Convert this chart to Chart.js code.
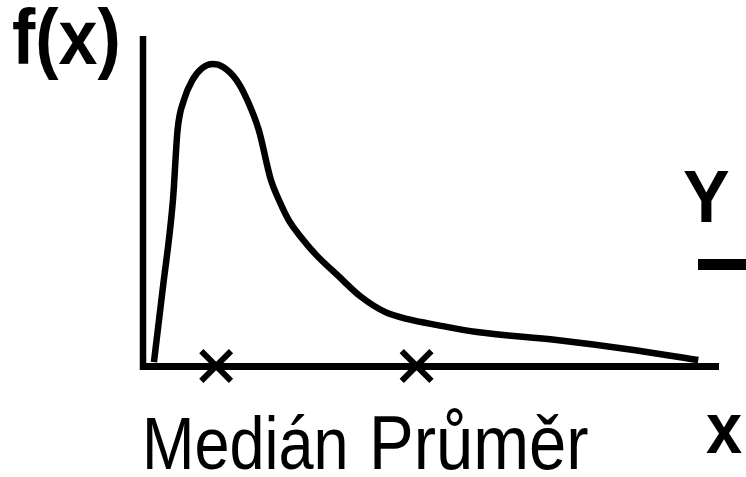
<!DOCTYPE html>
<html lang="cs">
<head>
<meta charset="utf-8">
<script src="https://cdn.jsdelivr.net/npm/chart.js@4/dist/chart.umd.min.js"></script>
<style>
  html,body{margin:0;padding:0;background:#fff;}
  canvas{display:block;}
</style>
</head>
<body>
<canvas id="graf" width="746" height="477"></canvas>
<script>
/* ---- data : hustota f(x), šikmé rozdělení ---- */
const krivkaX = [1.9, 3.4, 5.2, 6.0, 7.1, 8.6, 10.3, 12.1, 13.9, 16.2, 18.1, 20.1, 22.2, 23.6, 25.3, 27.4, 30.1, 33.9, 37.9, 42.0, 46.0, 51.1, 58.0, 71.8, 85.5, 96.4];
const krivkaY = [1.2, 23.0, 50.3, 71.5, 80.6, 86.7, 90.3, 91.5, 90.6, 86.7, 80.6, 71.5, 56.4, 50.3, 44.2, 39.1, 33.6, 27.3, 20.9, 16.4, 14.2, 12.4, 10.3, 7.9, 4.8, 1.8];
const znackyX = [12.7, 47.5];   // medián, průměr
const znackyY = [0, 0];
const popisky = ['Medián', 'Průměr'];

const PISMO = '"Liberation Sans", Arial, sans-serif';

/* text mírně natažený svisle, jako v předloze */
function napis(ctx, t, x, y, font, sy){
  ctx.save();
  ctx.font = font;
  ctx.translate(x, y);
  ctx.scale(1, sy);
  ctx.fillText(t, 0, 0);
  ctx.restore();
}

/* osy + texty kreslené přímo do plátna */
const osy = {
  id: 'osy',
  beforeDatasetsDraw(ch){
    const {ctx, chartArea: a, scales: {x, y}} = ch;
    const x0 = x.getPixelForValue(0), y0 = y.getPixelForValue(0);
    ctx.save();
    ctx.strokeStyle = '#000';
    ctx.lineCap = 'butt';
    ctx.lineWidth = 6.5;
    ctx.beginPath(); ctx.moveTo(x0, a.top); ctx.lineTo(x0, y0 + 4); ctx.stroke();
    ctx.lineWidth = 7;
    ctx.beginPath(); ctx.moveTo(x0 - 3, y0 + 0.5); ctx.lineTo(a.right, y0 + 0.5); ctx.stroke();
    ctx.restore();
  },
  afterDraw(ch){
    const ctx = ch.ctx;
    ctx.save();
    ctx.fillStyle = '#000';
    ctx.textBaseline = 'alphabetic';
    ctx.textAlign = 'left';
    napis(ctx, 'f(x)', 12, 64, 'bold 70px ' + PISMO, 1.1);
    napis(ctx, 'Y', 683, 222, 'bold 70px ' + PISMO, 1.05);
    napis(ctx, 'x', 706, 453, 'bold 65px ' + PISMO, 1.1);
    ctx.fillRect(698, 259, 48, 11);
    napis(ctx, popisky[0], 142, 469, '63px ' + PISMO, 1.18);
    napis(ctx, popisky[1], 369, 469, '67px ' + PISMO, 1.12);
    ctx.restore();
  }
};

new Chart(document.getElementById('graf'), {
  type: 'scatter',
  data: {
    datasets: [
      {
        data: krivkaX.map((v, i) => ({x: v, y: krivkaY[i]})),
        showLine: true, borderColor: '#000', borderWidth: 6.5,
        borderCapStyle: 'butt', pointRadius: 0,
        cubicInterpolationMode: 'monotone', clip: false
      },
      {
        data: znackyX.map((v, i) => ({x: v, y: znackyY[i]})),
        pointStyle: 'crossRot', pointRadius: 21, borderColor: '#000',
        borderWidth: 6, clip: false
      }
    ]
  },
  options: {
    responsive: false, animation: false, devicePixelRatio: 1,
    layout: {padding: {left: 143, right: 22, top: 36, bottom: 111}},
    plugins: {legend: {display: false}, tooltip: {enabled: false}},
    scales: {
      x: {type: 'linear', min: 0, max: 100, display: false},
      y: {min: 0, max: 100, display: false}
    }
  },
  plugins: [osy]
});
</script>
</body>
</html>
